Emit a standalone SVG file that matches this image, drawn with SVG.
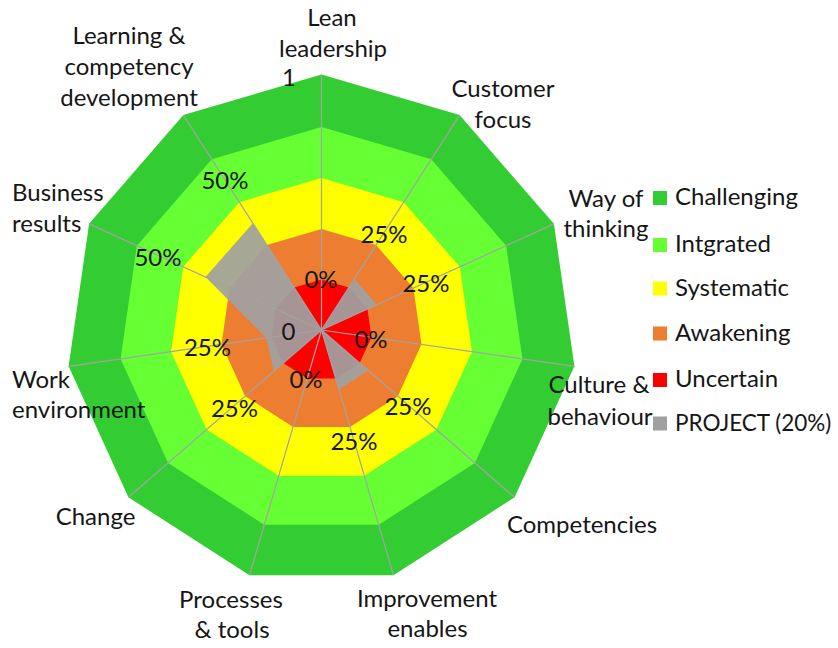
<svg xmlns="http://www.w3.org/2000/svg" width="838" height="648" viewBox="0 0 838 648">
<style>
text{font-family:Lato,"Open Sans","Liberation Sans",sans-serif;font-size:24px;fill:#161616}
.m{text-anchor:middle}
.spoke{stroke:#a3a3a3;stroke-width:1.2;fill:none}
.c1{fill:#33cc33}.c2{fill:#66ff33}.c3{fill:#ffff00}.c4{fill:#ed7d31}.c5{fill:#ff0000}.c6{fill:#a0a0a0}
</style>
<rect width="838" height="648" fill="#ffffff"/>
<g id="rings">
<polygon id="challenging" class="c1" points="321.5,74.5 459.63,115.06 553.91,223.86 574.4,366.36 514.59,497.32 393.48,575.15 249.52,575.15 128.41,497.32 68.6,366.36 89.09,223.86 183.37,115.06"/>
<polygon id="integrated" class="c2" points="321.5,127 431.25,159.23 506.15,245.67 522.43,358.89 474.92,462.94 378.69,524.78 264.31,524.78 168.08,462.94 120.57,358.89 136.85,245.67 211.75,159.23"/>
<polygon id="systematic" class="c3" points="321.5,178 403.68,202.13 459.76,266.86 471.95,351.63 436.37,429.54 364.32,475.84 278.68,475.84 206.63,429.54 171.05,351.63 183.24,266.86 239.32,202.13"/>
<polygon id="awakening" class="c4" points="321.5,229 376.1,245.03 413.37,288.04 421.47,344.37 397.83,396.14 349.95,426.91 293.05,426.91 245.17,396.14 221.53,344.37 229.63,288.04 266.9,245.03"/>
<polygon id="uncertain" class="c5" points="321.5,279.5 348.8,287.52 367.44,309.02 371.49,337.19 359.67,363.07 335.73,378.45 307.27,378.45 283.33,363.07 271.51,337.19 275.56,309.02 294.18,287.52"/>
<polygon id="project" class="c6" opacity="0.93" points="321.5,330 354.48,278.68 376.99,304.66 321.5,330 368.36,370.6 338.97,389.49 321.5,330 273.89,371.26 266.07,337.97 205.52,277.03 252.84,223.16"/>
</g>
<g id="spokes" class="spoke">
<line x1="321.5" y1="330" x2="321.5" y2="74.5"/>
<line x1="321.5" y1="330" x2="459.63" y2="115.06"/>
<line x1="321.5" y1="330" x2="553.91" y2="223.86"/>
<line x1="321.5" y1="330" x2="574.4" y2="366.36"/>
<line x1="321.5" y1="330" x2="514.59" y2="497.32"/>
<line x1="321.5" y1="330" x2="393.48" y2="575.15"/>
<line x1="321.5" y1="330" x2="249.52" y2="575.15"/>
<line x1="321.5" y1="330" x2="128.41" y2="497.32"/>
<line x1="321.5" y1="330" x2="68.6" y2="366.36"/>
<line x1="321.5" y1="330" x2="89.09" y2="223.86"/>
<line x1="321.5" y1="330" x2="183.37" y2="115.06"/>
</g>
<g id="value-labels">
<text class="m" x="321" y="288">0%</text>
<text class="m" x="384" y="243">25%</text>
<text class="m" x="426" y="292">25%</text>
<text class="m" x="371" y="348">0%</text>
<text class="m" x="408" y="415">25%</text>
<text class="m" x="354" y="450">25%</text>
<text class="m" x="306" y="388">0%</text>
<text class="m" x="234.5" y="417">25%</text>
<text class="m" x="207.5" y="356">25%</text>
<text class="m" x="158" y="266">50%</text>
<text class="m" x="225" y="189">50%</text>
<text class="m" x="288.5" y="340">0</text>
<text class="m" x="289" y="86">1</text>
</g>
<g id="axis-labels">
<g id="lbl-lean"><text class="m" x="332" y="26">Lean</text><text class="m" x="333" y="57">leadership</text></g>
<g id="lbl-customer"><text class="m" x="503" y="97">Customer</text><text class="m" x="503" y="128">focus</text></g>
<g id="lbl-way"><text class="m" x="606" y="207">Way of</text><text class="m" x="606" y="237">thinking</text></g>
<g id="lbl-culture"><text class="m" x="599" y="393">Culture &amp;</text><text class="m" x="600" y="425">behaviour</text></g>
<g id="lbl-competencies"><text class="m" x="582" y="533">Competencies</text></g>
<g id="lbl-improvement"><text class="m" x="427" y="607">Improvement</text><text class="m" x="427.5" y="637">enables</text></g>
<g id="lbl-processes"><text class="m" x="231" y="608">Processes</text><text class="m" x="232" y="638">&amp; tools</text></g>
<g id="lbl-change"><text class="m" x="95.5" y="525">Change</text></g>
<g id="lbl-work"><text x="12" y="388">Work</text><text x="12" y="418">environment</text></g>
<g id="lbl-business"><text x="12" y="201">Business</text><text x="12" y="232">results</text></g>
<g id="lbl-learning"><text class="m" x="129" y="44">Learning &amp;</text><text class="m" x="129" y="75">competency</text><text class="m" x="129" y="106">development</text></g>
</g>
<g id="legend">
<rect class="c1" x="653" y="191" width="14" height="14"/><text x="675" y="205">Challenging</text>
<rect class="c2" x="653" y="238" width="14" height="14"/><text x="675" y="252">Intgrated</text>
<rect class="c3" x="653" y="281.5" width="14" height="14"/><text x="675" y="295.5">Systematic</text>
<rect class="c4" x="653" y="326.5" width="14" height="14"/><text x="675" y="340.5">Awakening</text>
<rect class="c5" x="653" y="373" width="14" height="14"/><text x="675" y="387">Uncertain</text>
<rect class="c6" x="653" y="416.5" width="14" height="14"/><text x="675" y="430.5" style="font-size:22.5px">PROJECT (20%)</text>
</g>
</svg>
